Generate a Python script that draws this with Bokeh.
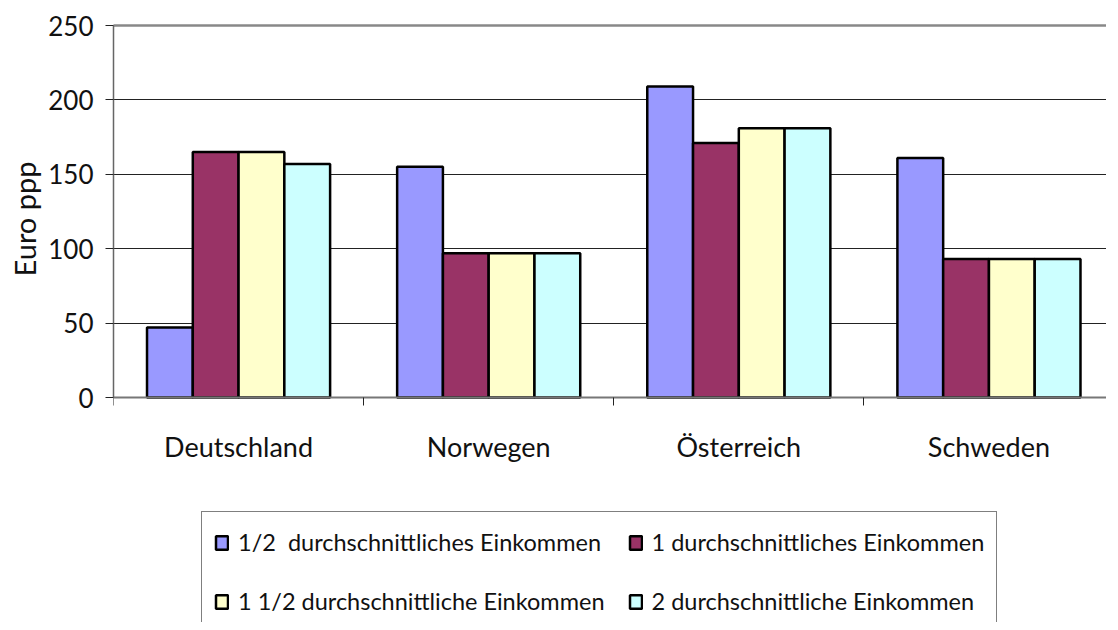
from bokeh.plotting import figure
from bokeh.models import (ColumnDataSource, Range1d, FixedTicker, LinearAxis,
                          Legend, LegendItem, Title)
from bokeh.embed import file_html
from bokeh.resources import INLINE

categories = ["Deutschland", "Norwegen", "Österreich", "Schweden"]
series_names = ["1/2  durchschnittliches Einkommen",
                "1 durchschnittliches Einkommen",
                "1 1/2 durchschnittliche Einkommen",
                "2 durchschnittliche Einkommen"]
half_income = [47, 155, 209, 161]
one_income = [165, 97, 171, 93]
one_half_income = [165, 97, 181, 93]
two_income = [157, 97, 181, 93]
y_ticks = [0, 50, 100, 150, 200, 250]

series_values = [half_income, one_income, one_half_income, two_income]
colors = ["#9999FF", "#993366", "#FFFFCC", "#CCFFFF"]
offsets = [-0.2745, -0.0915, 0.0915, 0.2745]
bar_w = 0.183

FONT = "Lato"

# the frame reaches down to the page bottom so that the legend below the
# value axis is not clipped; the value range below 0 is left empty
p = figure(frame_width=993, frame_height=597, output_backend="svg", toolbar_location=None,
           x_range=Range1d(0, 3.97), y_range=Range1d(-151.2, 250),
           min_border_left=109, min_border_right=0, min_border_top=25,
           min_border_bottom=0, x_axis_location=None, y_axis_location=None)
p.background_fill_color = "white"
p.border_fill_color = "white"
p.outline_line_color = None

centers = [i + 0.5 for i in range(len(categories))]
renderers = []
for vals, col, off in zip(series_values, colors, offsets):
    src = ColumnDataSource(dict(x=[c + off for c in centers], top=vals))
    r = p.vbar(x="x", top="top", width=bar_w, bottom=0, source=src,
               fill_color=col, line_color="black", line_width=2.5)
    renderers.append(r)

# y axis
yax = LinearAxis(ticker=FixedTicker(ticks=y_ticks), bounds=(0, 250))
yax.major_label_text_font = FONT
yax.major_label_text_font_size = "26px"
yax.major_label_text_color = "#111111"
yax.major_label_standoff = 12
yax.major_tick_out = 8
yax.major_tick_in = 0
yax.major_tick_line_color = "#222222"
yax.minor_tick_line_color = None
yax.axis_line_color = "#666666"
yax.axis_line_width = 1.5
p.add_layout(yax, "left")

# y axis title, placed over the 0..250 part of the frame
ytitle = Title(text="Euro ppp", align="right", offset=136, standoff=8,
               text_font=FONT, text_font_size="29px", text_font_style="normal",
               text_color="#111111")
p.add_layout(ytitle, "left")

# x axis at value 0: labels at category centres, ticks at boundaries (minor)
xax = LinearAxis(ticker=FixedTicker(ticks=centers, minor_ticks=[0, 1, 2, 3, 4]),
                 fixed_location=0)
xax.major_label_overrides = {c: name for c, name in zip(centers, categories)}
xax.major_label_text_font = FONT
xax.major_label_text_font_size = "27px"
xax.major_label_text_color = "#111111"
xax.major_label_standoff = 24
xax.major_tick_line_color = None
xax.major_tick_out = 0
xax.major_tick_in = 0
xax.minor_tick_out = 8
xax.minor_tick_in = 0
xax.minor_tick_line_color = "#222222"
xax.axis_line_color = "#777777"
xax.axis_line_width = 2
p.add_layout(xax, "below")

# top border line
top = LinearAxis(ticker=FixedTicker(ticks=[]))
top.major_label_text_font_size = "0px"
top.major_tick_line_color = None
top.minor_tick_line_color = None
top.axis_line_color = "#888888"
top.axis_line_width = 2.5
p.add_layout(top, "above")

p.xgrid.visible = False
p.ygrid.ticker = FixedTicker(ticks=[50, 100, 150, 200])
p.ygrid.grid_line_color = "#222222"
p.ygrid.grid_line_width = 1

items = [LegendItem(label=n, renderers=[r]) for n, r in zip(series_names, renderers)]
legend = Legend(items=items, location=(88, -10), orientation="horizontal", ncols=2)
legend.label_text_font = FONT
legend.label_text_font_size = "23.5px"
legend.label_text_color = "#111111"
legend.label_height = 36
legend.glyph_height = 17
legend.glyph_width = 15
legend.label_standoff = 9
legend.spacing = 23
legend.padding = 12
legend.margin = 0
legend.border_line_color = "black"
legend.border_line_width = 1
legend.background_fill_color = "white"
legend.background_fill_alpha = 1
p.add_layout(legend, "center")

open("out.html", "w").write(file_html(p, INLINE))
